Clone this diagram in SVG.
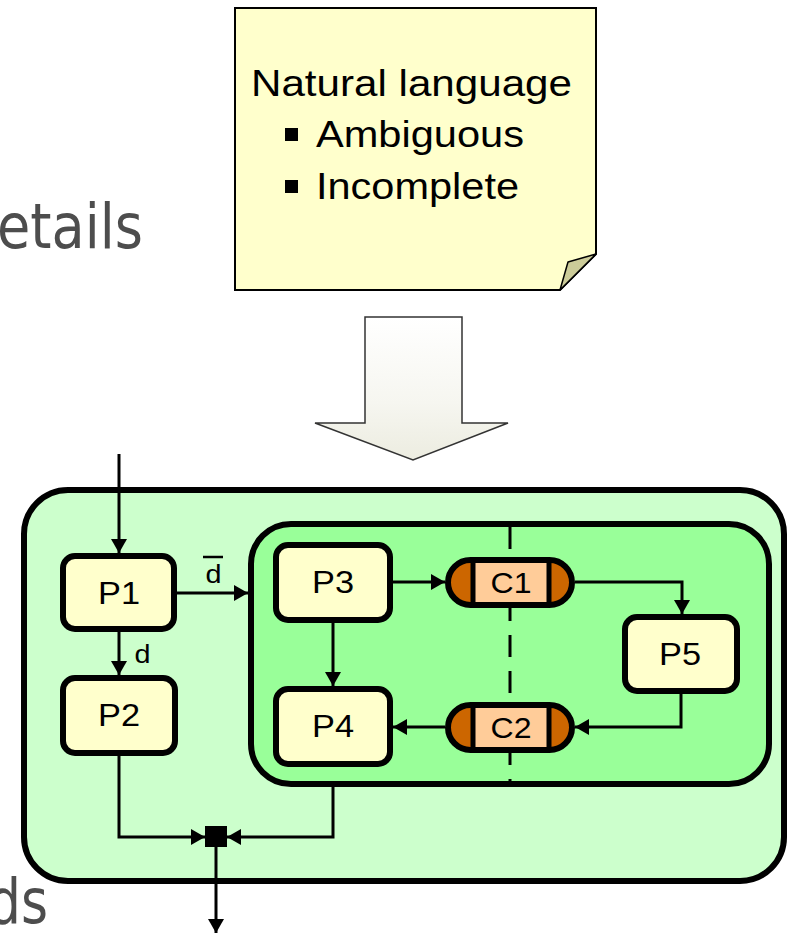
<svg xmlns="http://www.w3.org/2000/svg" width="788" height="935" viewBox="0 0 788 935">
  <defs>
    <style>
      .bg { font-family: "DejaVu Sans", Tahoma, sans-serif; font-size: 62px; fill: #4d4d4d; }
      .lbl { font-family: "Liberation Sans", Arial, sans-serif; fill: #000; }
      .proc { fill: #ffffcc; stroke: #000; stroke-width: 6; }
      .wire { fill: none; stroke: #000; stroke-width: 3; }
      .cap-body { fill: #cc6600; }
      .cap-mid { fill: #ffcc99; }
      .cap-bar { stroke: #000; stroke-width: 5; }
      .cap-edge { fill: none; stroke: #000; stroke-width: 6; }
    </style>
    <marker id="arr" markerUnits="userSpaceOnUse" markerWidth="14" markerHeight="16" viewBox="0 0 14 16" refX="14" refY="8" orient="auto">
      <path d="M0,0 L14,8 L0,16 z" fill="#000"/>
    </marker>
    <linearGradient id="shaft" x1="0" y1="0" x2="0" y2="1">
      <stop offset="0" stop-color="#ffffff"/>
      <stop offset="0.6" stop-color="#f6f6f0"/>
      <stop offset="1" stop-color="#ecece0"/>
    </linearGradient>
  </defs>

  <!-- slide text partly covered by the figures -->
  <text class="bg" x="-3" y="248" textLength="146" lengthAdjust="spacingAndGlyphs">etails</text>
  <text class="bg" x="-12" y="923" textLength="60" lengthAdjust="spacingAndGlyphs">ds</text>

  <!-- sticky note -->
  <g id="note">
    <path d="M235,8 H596 V254 L560,290 H235 Z" fill="#ffffcc" stroke="#000" stroke-width="2"/>
    <path d="M596,254 L568,262 L560,290 Z" fill="#cccc99" stroke="#000" stroke-width="1.5" stroke-linejoin="round"/>
    <text class="lbl" x="251" y="96" font-size="37" textLength="321" lengthAdjust="spacingAndGlyphs">Natural language</text>
    <rect x="285" y="128" width="13" height="13" fill="#000"/>
    <text class="lbl" x="316" y="147" font-size="36" textLength="208" lengthAdjust="spacingAndGlyphs">Ambiguous</text>
    <rect x="285" y="180" width="13" height="13" fill="#000"/>
    <text class="lbl" x="316" y="199" font-size="36" textLength="203" lengthAdjust="spacingAndGlyphs">Incomplete</text>
  </g>

  <!-- block arrow -->
  <g id="refine-arrow">
    <path d="M365,317 H462 V423 H508 L413,460 L315,423 H365 Z" fill="url(#shaft)" stroke="#333" stroke-width="1.5" stroke-linejoin="miter"/>
  </g>

  <!-- outer system -->
  <g id="system">
    <rect x="24" y="490" width="760" height="391" rx="44" fill="#ccffcc" stroke="#000" stroke-width="6"/>
  </g>

  <!-- inner subsystem -->
  <g id="subsystem">
    <rect x="251" y="524" width="518" height="260" rx="40" fill="#99ff99" stroke="#000" stroke-width="6"/>
    <line x1="510" y1="527" x2="510" y2="781" stroke="#000" stroke-width="3" stroke-dasharray="22 14"/>
  </g>

  <!-- connectors -->
  <g id="connectors" class="wire">
    <path d="M119,454 V553" marker-end="url(#arr)"/>
    <path d="M177,593 H248" marker-end="url(#arr)"/>
    <path d="M119,632 V675" marker-end="url(#arr)"/>
    <path d="M393,582 H445" marker-end="url(#arr)"/>
    <path d="M575,582 H682 V614" marker-end="url(#arr)"/>
    <path d="M681,694 V727 H575" marker-end="url(#arr)"/>
    <path d="M445,727 H393" marker-end="url(#arr)"/>
    <path d="M333,623 V686" marker-end="url(#arr)"/>
    <path d="M119,756 V837 H205" marker-end="url(#arr)"/>
    <path d="M333,787 V837 H227" marker-end="url(#arr)"/>
    <path d="M216,847 V933" marker-end="url(#arr)"/>
    <line x1="203" y1="557" x2="223" y2="557" stroke-width="2.5"/>
  </g>
  <g id="labels">
    <text class="lbl" x="213.5" y="583" font-size="25" text-anchor="middle" textLength="16" lengthAdjust="spacingAndGlyphs">d</text>
    <text class="lbl" x="142.5" y="663" font-size="25" text-anchor="middle" textLength="16" lengthAdjust="spacingAndGlyphs">d</text>
  </g>

  <!-- junction -->
  <g id="join">
    <rect x="205" y="826" width="22" height="21" fill="#000"/>
  </g>

  <!-- processes -->
  <g id="P1">
    <rect class="proc" x="63" y="556" width="111" height="73" rx="12"/>
    <text class="lbl" x="119" y="604" font-size="32" text-anchor="middle" textLength="42" lengthAdjust="spacingAndGlyphs">P1</text>
  </g>
  <g id="P2">
    <rect class="proc" x="63" y="678" width="112" height="75" rx="12"/>
    <text class="lbl" x="119" y="726" font-size="32" text-anchor="middle" textLength="42" lengthAdjust="spacingAndGlyphs">P2</text>
  </g>
  <g id="P3">
    <rect class="proc" x="276" y="545" width="114" height="75" rx="12"/>
    <text class="lbl" x="333" y="593" font-size="32" text-anchor="middle" textLength="42" lengthAdjust="spacingAndGlyphs">P3</text>
  </g>
  <g id="P4">
    <rect class="proc" x="276" y="689" width="114" height="75" rx="12"/>
    <text class="lbl" x="333" y="737" font-size="32" text-anchor="middle" textLength="42" lengthAdjust="spacingAndGlyphs">P4</text>
  </g>
  <g id="P5">
    <rect class="proc" x="625" y="617" width="112" height="74" rx="12"/>
    <text class="lbl" x="680" y="665" font-size="32" text-anchor="middle" textLength="42" lengthAdjust="spacingAndGlyphs">P5</text>
  </g>

  <!-- channels -->
  <g id="C1">
    <rect class="cap-body" x="448" y="560" width="124" height="45" rx="22.5"/>
    <rect class="cap-mid" x="473" y="560" width="76" height="45"/>
    <line class="cap-bar" x1="473" y1="560" x2="473" y2="605"/>
    <line class="cap-bar" x1="549" y1="560" x2="549" y2="605"/>
    <rect class="cap-edge" x="448" y="560" width="124" height="45" rx="22.5"/>
    <text class="lbl" x="511" y="593" font-size="30" text-anchor="middle" textLength="41" lengthAdjust="spacingAndGlyphs">C1</text>
  </g>
  <g id="C2">
    <rect class="cap-body" x="448" y="705" width="124" height="45" rx="22.5"/>
    <rect class="cap-mid" x="473" y="705" width="76" height="45"/>
    <line class="cap-bar" x1="473" y1="705" x2="473" y2="750"/>
    <line class="cap-bar" x1="549" y1="705" x2="549" y2="750"/>
    <rect class="cap-edge" x="448" y="705" width="124" height="45" rx="22.5"/>
    <text class="lbl" x="511" y="738" font-size="30" text-anchor="middle" textLength="41" lengthAdjust="spacingAndGlyphs">C2</text>
  </g>
</svg>
